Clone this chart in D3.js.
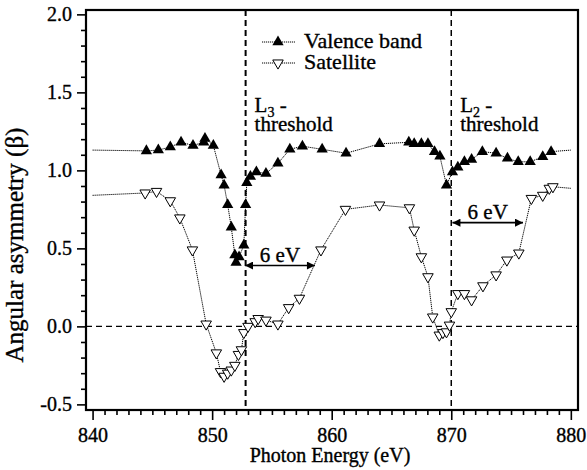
<!DOCTYPE html>
<html>
<head>
<meta charset="utf-8">
<script src="https://cdn.jsdelivr.net/npm/d3@7"></script>
<style>
  body { margin: 0; background: #fff; }
  svg text { font-family: "Liberation Serif", "DejaVu Serif", "Times New Roman", serif !important; fill: #000; stroke: #000; stroke-width: 0.35px; }
</style>
</head>
<body>
<div id="chart"></div>
<script>
// photon energy (eV) and beta, first and last entries are the flat tails (no marker)
const valenceE = [840, 844.5, 845.5, 846.5, 847.4, 848.4, 849.3, 849.4, 850.1, 850.75, 851.0, 851.3, 851.6, 851.9, 852.0, 852.25,
  852.65, 852.8, 852.9, 853.2, 853.7, 854.5, 855.5, 856.5, 857.55, 859.2, 861.2, 864.0, 866.45, 866.9, 867.5, 868.05,
  868.6, 869.05, 869.6, 870.1, 870.55, 871.1, 871.7, 872.6, 873.75, 874.7, 875.6, 876.6, 877.65, 878.35, 880];
const valenceB = [1.13, 1.125, 1.13, 1.15, 1.18, 1.16, 1.18, 1.205, 1.16, 0.97, 0.905, 0.78, 0.635, 0.457, 0.41, 0.445,
  0.52, 0.78, 0.92, 0.96, 0.99, 0.98, 1.045, 1.135, 1.155, 1.135, 1.11, 1.17, 1.18, 1.17, 1.17, 1.17,
  1.12, 1.09, 0.905, 0.99, 1.02, 1.055, 1.07, 1.12, 1.11, 1.077, 1.055, 1.055, 1.087, 1.12, 1.13];

const satE = [840, 844.4, 845.35, 846.5, 847.3, 848.35, 849.5, 850.35, 850.7, 851.0, 851.3, 851.6, 851.9, 852.2, 852.45,
  852.65, 853.0, 853.6, 853.85, 854.5, 855.5, 856.4, 857.3, 859.1, 861.15, 864.0, 866.5, 866.9, 867.5, 868.05,
  868.45, 869.0, 869.3, 869.6, 869.85, 870.0, 870.55, 871.1, 871.7, 872.65, 873.75, 874.65, 875.65, 876.7,
  877.65, 878.2, 878.5, 880];
const satB = [0.84, 0.855, 0.865, 0.805, 0.695, 0.49, 0.015, -0.17, -0.29, -0.32, -0.3, -0.28, -0.25, -0.18, -0.15,
  -0.04, 0.0, 0.03, 0.05, 0.04, 0.015, 0.12, 0.18, 0.49, 0.75, 0.778, 0.76, 0.617, 0.446, 0.318,
  0.06, -0.056, -0.04, -0.035, 0.008, 0.094, 0.21, 0.21, 0.17, 0.26, 0.33, 0.425, 0.47, 0.82,
  0.84, 0.885, 0.895, 0.885];

const xMajor = [840, 850, 860, 870, 880];
const yMajor = [-0.5, 0.0, 0.5, 1.0, 1.5, 2.0];
const thresholds = [852.8, 870.0];        // L3, L2
const thresholdSub = ["3", "2"];
const arrowsE = [[852.75, 858.6], [870.1, 876.0]];
const arrowsB = [0.39, 0.665];
const legendLabels = ["Valence band", "Satellite"];

const width = 587, height = 470;
const margin = {top: 10, right: 9, bottom: 60, left: 86};
const innerWidth = width - margin.left - margin.right;
const innerHeight = height - margin.top - margin.bottom;
const serif = "'Liberation Serif', 'DejaVu Serif', 'Times New Roman', serif";

const svg = d3.select("#chart").append("svg")
  .attr("width", width)
  .attr("height", height)
  .attr("font-family", serif);

const defs = svg.append("defs");
["arrEnd", "arrStart"].forEach((id, i) => {
  defs.append("marker")
    .attr("id", id)
    .attr("viewBox", "0 0 10 10")
    .attr("refX", i == 0 ? 10 : 0).attr("refY", 5)
    .attr("markerWidth", 12).attr("markerHeight", 8)
    .attr("markerUnits", "userSpaceOnUse")
    .attr("orient", "auto")
    .append("path")
    .attr("d", i == 0 ? "M0,0 L10,5 L0,10 z" : "M10,0 L0,5 L10,10 z")
    .attr("fill", "#000");
});

const g = svg.append("g").attr("transform", `translate(${margin.left},${margin.top})`);

const xScale = d3.scaleLinear().domain([839.45, 880.6]).range([0, innerWidth]);
const yScale = d3.scaleLinear().domain([-0.536, 2.028]).range([innerHeight, 0]);

// axes
const xMinor = d3.range(840, 881, 1).filter(v => v % 10 != 0);
const yMinor = d3.range(-5, 21, 1).map(v => v / 10).filter(v => Math.round(v * 10) % 5 != 0);

const xAxisG = g.append("g").attr("transform", `translate(0,${innerHeight})`)
  .call(d3.axisBottom(xScale).tickValues(xMajor).tickSize(10).tickSizeOuter(0).tickPadding(8).tickFormat(d3.format("d")));
g.append("g").attr("transform", `translate(0,${innerHeight})`)
  .call(d3.axisBottom(xScale).tickValues(xMinor).tickSize(5).tickFormat(""))
  .select(".domain").remove();

const yAxisG = g.append("g")
  .call(d3.axisLeft(yScale).tickValues(yMajor).tickSize(9).tickSizeOuter(0).tickPadding(5).tickFormat(d => d.toFixed(1)));
g.append("g")
  .call(d3.axisLeft(yScale).tickValues(yMinor).tickSize(5).tickFormat(""))
  .select(".domain").remove();

[xAxisG, yAxisG].forEach(a => {
  a.attr("font-family", serif);
  a.select(".domain").remove();
  a.selectAll("text").style("font-size", "20px").attr("fill", "#000");
});
g.selectAll(".tick line").attr("stroke-width", 1.6);

g.append("rect")
  .attr("width", innerWidth).attr("height", innerHeight)
  .attr("fill", "none").attr("stroke", "#000").attr("stroke-width", 2.2);

// reference lines
g.append("line")
  .attr("x1", 0).attr("x2", innerWidth)
  .attr("y1", yScale(0)).attr("y2", yScale(0))
  .attr("stroke", "#000").attr("stroke-width", 1.4).attr("stroke-dasharray", "6,4");

g.selectAll(".thr").data(thresholds).join("line")
  .attr("class", "thr")
  .attr("x1", d => xScale(d)).attr("x2", d => xScale(d))
  .attr("y1", 0).attr("y2", innerHeight)
  .attr("stroke", "#000").attr("stroke-width", (d, i) => i == 0 ? 2 : 1.5).attr("stroke-dasharray", "6,4");

// series
const valence = valenceE.map((e, i) => ({e: e, b: valenceB[i]}));
const satellite = satE.map((e, i) => ({e: e, b: satB[i]}));

const lineGen = d3.line().x(d => xScale(d.e)).y(d => yScale(d.b));

[valence, satellite].forEach(s => {
  g.append("path")
    .attr("d", lineGen(s))
    .attr("fill", "none").attr("stroke", "#000")
    .attr("stroke-width", 1).attr("stroke-dasharray", "1.2,0.8");
});

const upTri = d3.symbol().type(d3.symbolTriangle).size(55);
const downTri = d3.symbol().type(d3.symbolTriangle).size(48);

g.selectAll(".vb").data(valence.slice(1, -1)).join("path")
  .attr("class", "vb")
  .attr("d", upTri)
  .attr("transform", d => `translate(${xScale(d.e)},${yScale(d.b)})`)
  .attr("fill", "#000");

g.selectAll(".sat").data(satellite.slice(1, -1)).join("path")
  .attr("class", "sat")
  .attr("d", downTri)
  .attr("transform", d => `translate(${xScale(d.e)},${yScale(d.b)}) rotate(180)`)
  .attr("fill", "#fff").attr("stroke", "#000").attr("stroke-width", 1);

// threshold labels
thresholds.forEach((t, i) => {
  const x = xScale(t) + 9;
  const lab = g.append("text").attr("x", x).attr("y", 102).style("font-size", "21px");
  lab.append("tspan").text("L");
  lab.append("tspan").attr("dy", 5).style("font-size", "14px").text(thresholdSub[i]);
  lab.append("tspan").attr("dy", -5).text(" -");
  g.append("text").attr("x", x).attr("y", 121).style("font-size", "21px").text("threshold");
});

// 6 eV arrows
arrowsE.forEach((a, i) => {
  const y = yScale(arrowsB[i]);
  g.append("line")
    .attr("x1", xScale(a[0])).attr("x2", xScale(a[1]))
    .attr("y1", y).attr("y2", y)
    .attr("stroke", "#000").attr("stroke-width", 1.6)
    .attr("marker-start", "url(#arrStart)").attr("marker-end", "url(#arrEnd)");
  g.append("text")
    .attr("x", (xScale(a[0]) + xScale(a[1])) / 2).attr("y", y - 4)
    .attr("text-anchor", "middle").style("font-size", "21px")
    .text("6 eV");
});

// legend
const legend = g.append("g").attr("transform", `translate(${262 - margin.left},${42 - margin.top})`);
legendLabels.forEach((l, i) => {
  const row = legend.append("g").attr("transform", `translate(0,${i * 21})`);
  row.append("line").attr("x1", 0).attr("x2", 33).attr("y1", 0).attr("y2", 0)
    .attr("stroke", "#000").attr("stroke-width", 1).attr("stroke-dasharray", "1.2,0.8");
  row.append("path")
    .attr("d", i == 0 ? upTri : downTri)
    .attr("transform", `translate(16,0)` + (i == 0 ? "" : " rotate(180)"))
    .attr("fill", i == 0 ? "#000" : "#fff").attr("stroke", i == 0 ? "none" : "#000");
  row.append("text").attr("x", 42).attr("y", 6).style("font-size", "22px").text(l);
});

// axis titles
svg.append("text")
  .attr("x", margin.left + innerWidth / 2 - 2).attr("y", 462)
  .attr("text-anchor", "middle").style("font-size", "20px")
  .text("Photon Energy (eV)");

svg.append("text")
  .attr("transform", `translate(23,245) rotate(-90)`)
  .attr("text-anchor", "middle").style("font-size", "25px")
  .text("Angular asymmetry (β)");
</script>
</body>
</html>
